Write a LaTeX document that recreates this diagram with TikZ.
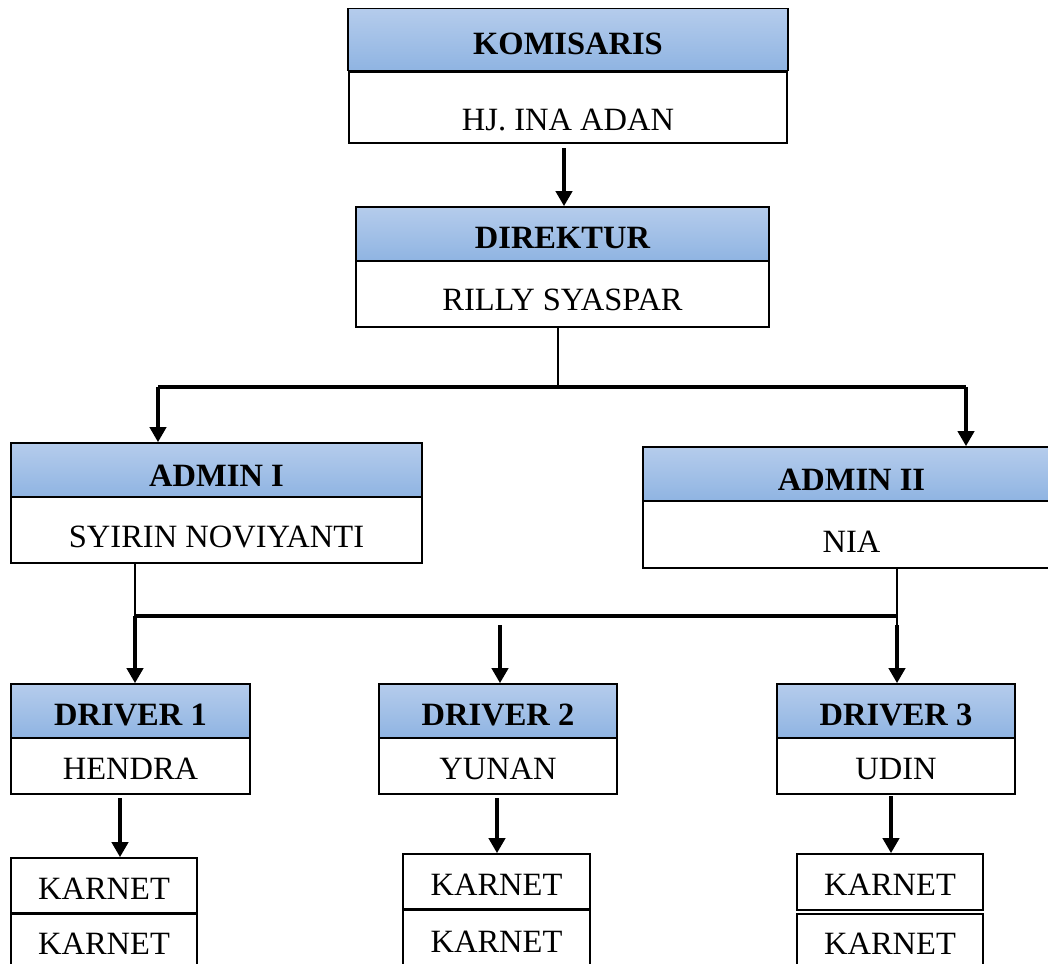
\documentclass[tikz,border=0pt]{standalone}
\usepackage{fontspec}
\setmainfont{Liberation Serif}
\usetikzlibrary{arrows.meta}
\definecolor{hdrtop}{RGB}{181,204,236}
\definecolor{hdrbot}{RGB}{143,180,226}
\tikzset{
  boxbase/.style={draw=black, line width=1.6pt, rectangle, inner sep=0pt, text depth=0pt, text height=28pt},
  hdrbox/.style={boxbase, top color=hdrtop, bottom color=hdrbot, font=\bfseries\fontsize{32.5}{38}\selectfont},
  namebox/.style={boxbase, fill=white, font=\fontsize{32.5}{38}\selectfont},
  arr/.style={line width=3.8pt, -{Triangle[width=16pt,length=15pt]}},
  busline/.style={line width=4.2pt},
  thinline/.style={line width=1.6pt}
}
\begin{document}
\begin{tikzpicture}[x=1pt,y=-1pt]
\useasboundingbox (0,0) rectangle (1048,963);
% KOMISARIS
\node[hdrbox, minimum width=440pt, minimum height=62pt, text height=30pt] (kh) at (568,39.5) {KOMISARIS};
\node[namebox, minimum width=438pt, minimum height=71pt, text height=46pt] (kn) at (568,107.5) {HJ. INA ADAN};
% DIREKTUR
\node[hdrbox, minimum width=413pt, minimum height=54pt, text height=28pt] (dh) at (562.5,234) {DIREKTUR};
\node[namebox, minimum width=413pt, minimum height=66pt, text height=33pt] (dn) at (562.5,294) {RILLY SYASPAR};
% ADMIN
\node[hdrbox, minimum width=411pt, minimum height=54pt, text height=33pt] (a1h) at (216.5,470) {ADMIN I};
\node[namebox, minimum width=411pt, minimum height=66pt, text height=35pt] (a1n) at (216.5,530) {SYIRIN NOVIYANTI};
\node[hdrbox, minimum width=417pt, minimum height=54pt, text height=33pt] (a2h) at (851.5,474) {ADMIN II};
\node[namebox, minimum width=417pt, minimum height=67pt, text height=35pt] (a2n) at (851.5,534.5) {NIA};
% DRIVERS
\node[hdrbox, minimum width=239pt, minimum height=54pt, text height=28pt] (d1h) at (130.5,711) {DRIVER 1};
\node[namebox, minimum width=239pt, minimum height=56pt, text height=26pt] (d1n) at (130.5,766) {HENDRA};
\node[hdrbox, minimum width=238pt, minimum height=54pt, text height=28pt] (d2h) at (498,711) {DRIVER 2};
\node[namebox, minimum width=238pt, minimum height=56pt, text height=26pt] (d2n) at (498,766) {YUNAN};
\node[hdrbox, minimum width=238pt, minimum height=54pt, text height=28pt] (d3h) at (896,711) {DRIVER 3};
\node[namebox, minimum width=238pt, minimum height=56pt, text height=26pt] (d3n) at (896,766) {UDIN};
% KARNET
\node[namebox, minimum width=186pt, minimum height=55pt, text height=27pt] (k1a) at (104,885.5) {KARNET};
\node[namebox, minimum width=186pt, minimum height=54pt, text height=27pt, anchor=north] (k1b) at (104,913) {KARNET};
\node[namebox, minimum width=187pt, minimum height=55pt, text height=27pt] (k2a) at (496.5,881.5) {KARNET};
\node[namebox, minimum width=187pt, minimum height=58pt, text height=27pt, anchor=north] (k2b) at (496.5,909) {KARNET};
\node[namebox, minimum width=186pt, minimum height=56pt, text height=27pt] (k3a) at (890,882) {KARNET};
\node[namebox, minimum width=186pt, minimum height=54pt, text height=27pt, anchor=north] (k3b) at (890,913) {KARNET};
% connectors: komisaris -> direktur
\coordinate (ka) at (564,148);
\draw[arr] (ka) -- (ka |- dh.north);
% direktur -> admins
\coordinate (bM) at (558,387);
\coordinate (bL) at (158,387);
\coordinate (bR) at (966,387);
\draw[thinline] (bM |- dn.south) -- (bM);
\draw[busline] (bL) -- (bR);
\draw[arr] (bL) -- (bL |- a1h.north);
\draw[arr] (bR) -- (bR |- a2h.north);
% admins -> drivers
\coordinate (cL) at (135,616);
\coordinate (cR) at (897,616);
\coordinate (cM) at (500,625);
\coordinate (cR2) at (897,625);
\draw[thinline] (cL |- a1n.south) -- (cL);
\draw[thinline] (cR |- a2n.south) -- (cR2);
\draw[busline] (cL) -- (cR);
\draw[arr] (cL) -- (cL |- d1h.north);
\draw[arr] (cM) -- (cM |- d2h.north);
\draw[arr] (cR2) -- (cR2 |- d3h.north);
% drivers -> karnet
\coordinate (p1) at (120,798);
\coordinate (p2) at (497,798);
\coordinate (p3) at (891,796);
\draw[arr] (p1) -- (p1 |- k1a.north);
\draw[arr] (p2) -- (p2 |- k2a.north);
\draw[arr] (p3) -- (p3 |- k3a.north);
\end{tikzpicture}
\end{document}
